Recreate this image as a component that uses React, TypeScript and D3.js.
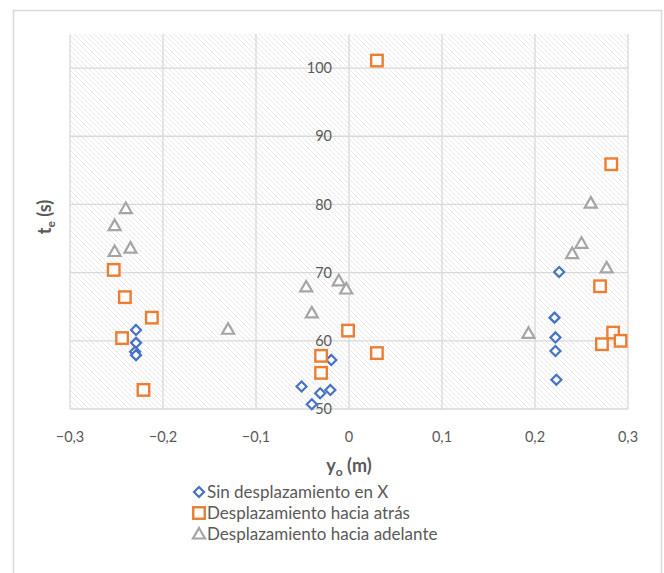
import React from "react";
import * as d3 from "d3";

const xTicks = [-0.3, -0.2, -0.1, 0, 0.1, 0.2, 0.3];
const yTicks = [50, 60, 70, 80, 90, 100];

const sinX = [-0.229, -0.229, -0.230, -0.229, -0.019, -0.051, -0.040, -0.031, -0.020, 0.226, 0.221, 0.222, 0.222, 0.223];
const sinY = [61.6, 59.7, 58.4, 57.9, 57.2, 53.3, 50.7, 52.3, 52.8, 70.1, 63.4, 60.5, 58.5, 54.3];

const atrasX = [-0.253, -0.241, -0.212, -0.244, -0.221, 0.030, -0.001, -0.030, -0.030, 0.030, 0.282, 0.270, 0.284, 0.272, 0.292];
const atrasY = [70.4, 66.4, 63.4, 60.4, 52.8, 101.1, 61.5, 57.8, 55.3, 58.2, 85.9, 68.0, 61.2, 59.5, 60.0];

const adelanteX = [-0.240, -0.252, -0.252, -0.235, -0.130, -0.046, -0.011, -0.003, -0.040, 0.260, 0.250, 0.240, 0.277, 0.193];
const adelanteY = [79.4, 76.9, 73.1, 73.6, 61.7, 67.9, 68.8, 67.6, 64.1, 80.2, 74.3, 72.8, 70.7, 61.1];

const seriesNames = ["Sin desplazamiento en X", "Desplazamiento hacia atrás", "Desplazamiento hacia adelante"];
const colors = ["#4472C4", "#ED7D31", "#A5A5A5"];

const W = 664, H = 573;
const x = d3.scaleLinear().domain([-0.3, 0.3]).range([70, 628]);
const y = d3.scaleLinear().domain([50, 105]).range([409, 34]);
const fmt = (v: number) => (Math.abs(v) < 1e-9 ? "0" : d3.format(".1f")(v).replace(".", ","));

function Marker({ kind, cx, cy }: { kind: number; cx: number; cy: number }) {
  if (kind === 0) {
    const r = 5;
    return (
      <path d={`M${cx},${cy - r}L${cx + r},${cy}L${cx},${cy + r}L${cx - r},${cy}Z`} fill="white" stroke={colors[0]} strokeWidth={2.2} />
    );
  }
  if (kind === 1) {
    const s = 11.5;
    return <rect x={cx - s / 2} y={cy - s / 2} width={s} height={s} fill="white" stroke={colors[1]} strokeWidth={2.4} />;
  }
  const h = 10, w = 12;
  return (
    <path d={`M${cx},${cy - h * 0.6}L${cx + w / 2},${cy + h * 0.45}L${cx - w / 2},${cy + h * 0.45}Z`} fill="white" stroke={colors[2]} strokeWidth={2.2} strokeLinejoin="miter" />
  );
}

export default function App() {
  const series = [
    { xs: sinX, ys: sinY },
    { xs: atrasX, ys: atrasY },
    { xs: adelanteX, ys: adelanteY },
  ];
  const font = "Lato, 'Open Sans', sans-serif";
  const [y0, y1] = y.range();
  const [x0, x1] = x.range();
  return (
    <svg width={W} height={H} style={{ position: "absolute", left: 0, top: 0 }} fontFamily={font}>
      <defs>
        <pattern id="hatch" width={5} height={5} patternUnits="userSpaceOnUse">
          <rect width={5} height={5} fill="white" />
          <path d="M-1,-1L6,6M-1,4L1,6M4,-1L6,1" stroke="#e6e6e6" strokeWidth={0.9} />
        </pattern>
      </defs>
      <rect x={0} y={0} width={W} height={H} fill="white" />
      <path d={`M13.5,${H}V10.5H661.5V${H}`} fill="none" stroke="#d9d9d9" strokeWidth={1.5} />
      <rect x={x0} y={y1} width={x1 - x0} height={y0 - y1} fill="url(#hatch)" />
      {yTicks.map((t) => (
        <line key={"gy" + t} x1={x0} x2={x1} y1={y(t)} y2={y(t)} stroke="#d9d9d9" strokeWidth={1.3} />
      ))}
      {xTicks.map((t) => (
        <line key={"gx" + t} x1={x(t)} x2={x(t)} y1={y1} y2={y0} stroke="#d9d9d9" strokeWidth={1.3} />
      ))}
      {yTicks.map((t) => (
        <text key={"ty" + t} x={x(0) - 17} y={y(t)} dy="0.35em" textAnchor="end" fontSize={14.5} fill="#595959">
          {t}
        </text>
      ))}
      {xTicks.map((t) => (
        <text key={"tx" + t} x={x(t)} y={437} dy="0.35em" textAnchor="middle" fontSize={14.5} fill="#595959">
          {fmt(t)}
        </text>
      ))}
      {series.map((s, i) =>
        s.xs.map((xv, j) => <Marker key={i + "-" + j} kind={i} cx={x(xv)} cy={y(s.ys[j])} />)
      )}
      <text x={349} y={466} dy="0.35em" textAnchor="middle" fontSize={18} fontWeight="bold" fill="#595959">
        y<tspan fontSize={12} dy="4">o</tspan><tspan dy="-4"> (m)</tspan>
      </text>
      <text transform="translate(45,217) rotate(-90)" textAnchor="middle" dy="0.35em" fontSize={18} fontWeight="bold" fill="#595959">
        t<tspan fontSize={12} dy="4">e</tspan><tspan dy="-4"> (s)</tspan>
      </text>
      {seriesNames.map((n, i) => (
        <g key={n}>
          <Marker kind={i} cx={199} cy={492 + i * 21} />
          <text x={207} y={492 + i * 21} dy="0.35em" fontSize={17} fill="#595959">
            {n}
          </text>
        </g>
      ))}
    </svg>
  );
}
